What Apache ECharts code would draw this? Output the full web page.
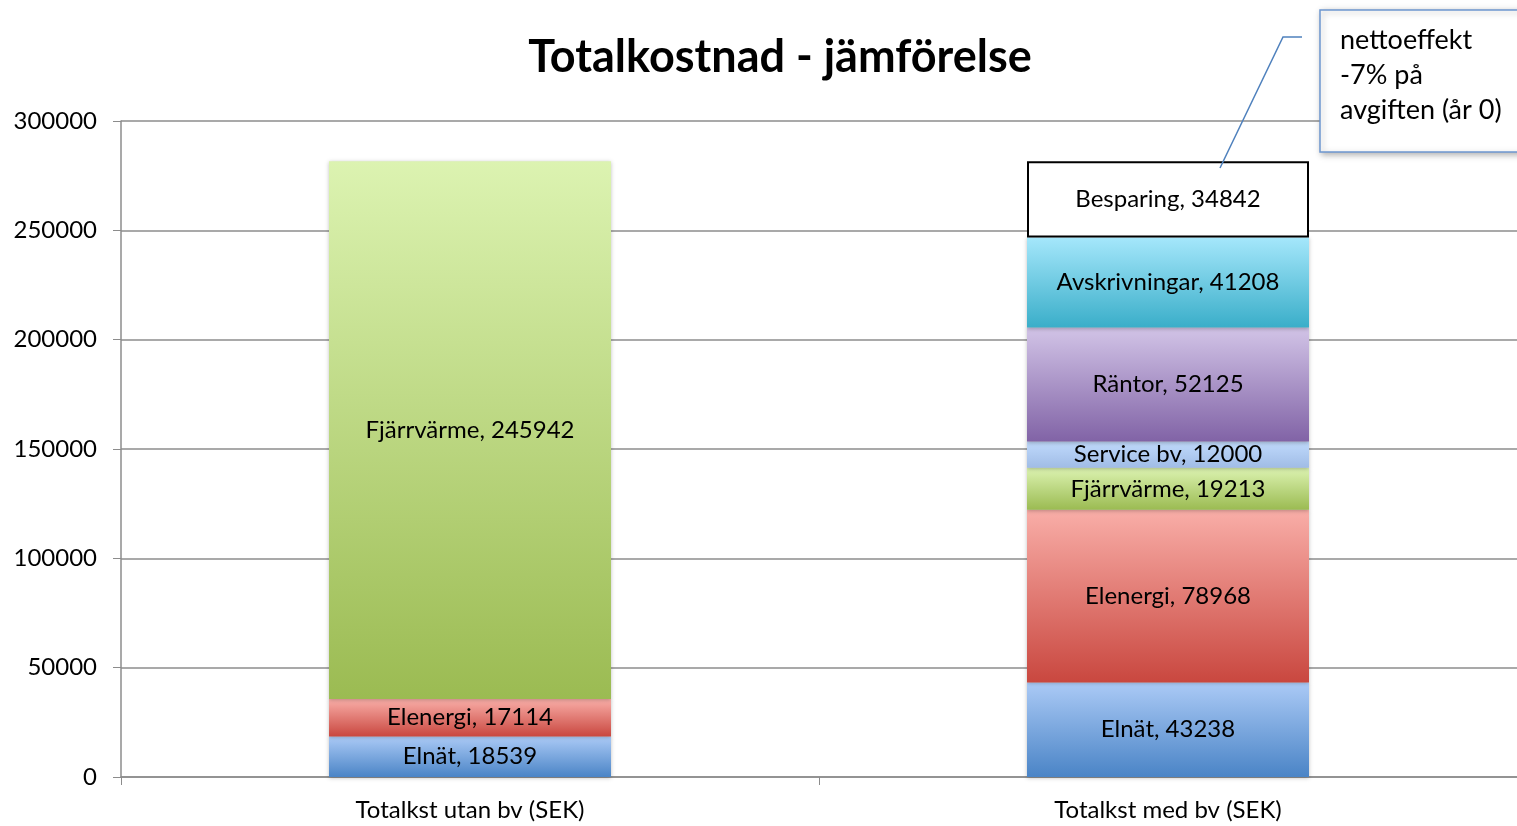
<!DOCTYPE html>
<html lang="sv">
<head>
    <meta charset="UTF-8">
    <title>Totalkostnad - jämförelse</title>
    <script src="https://cdn.jsdelivr.net/npm/echarts@6/dist/echarts.min.js"></script>
</head>
<body style="margin:0">
<div id="chart" style="width:1517px;height:826px"></div>
<script>
    var categories = ['Totalkst utan bv (SEK)', 'Totalkst med bv (SEK)'];
    var seriesNames = ['Elnät', 'Elenergi', 'Fjärrvärme', 'Service bv', 'Räntor', 'Avskrivningar', 'Besparing'];
    var elnat = [18539, 43238];
    var elenergi = [17114, 78968];
    var fjarrvarme = [245942, 19213];
    var serviceBv = ['-', 12000];
    var rantor = ['-', 52125];
    var avskrivningar = ['-', 41208];
    var besparing = ['-', 34842];
    var calloutText = 'nettoeffekt\n-7% på\navgiften (år 0)';

    var values = [elnat, elenergi, fjarrvarme, serviceBv, rantor, avskrivningar, besparing];
    var gradients = [
        ['#abcaf6', '#4a84c6'],
        ['#f9aea8', '#c9473f'],
        ['#dcf3b1', '#9bbb52'],
        ['#c0dafc', '#a0bce6'],
        ['#d2c4e7', '#8163a6'],
        ['#a5e7fb', '#3aaec9'],
        null
    ];

    var font = 'Lato';
    var series = seriesNames.map(function (name, i) {
        var g = gradients[i];
        var itemStyle = g ? {
            color: new echarts.graphic.LinearGradient(0, 0, 0, 1, [
                {offset: 0, color: g[0]},
                {offset: 1, color: g[1]}
            ]),
            shadowColor: 'rgba(0,0,0,0.25)',
            shadowBlur: 4,
            shadowOffsetY: 1
        } : {
            color: '#fff',
            borderColor: '#000',
            borderWidth: 2
        };
        return {
            name: name,
            type: 'bar',
            stack: 'total',
            barWidth: 282,
            data: values[i],
            itemStyle: itemStyle,
            label: {
                show: true,
                position: 'inside',
                formatter: '{a}, {c}',
                color: '#000',
                fontFamily: font,
                fontSize: 24
            }
        };
    });

    var myChart = echarts.init(document.getElementById('chart'));
    var option = {
        backgroundColor: '#fff',
        animation: false,
        title: {
            text: 'Totalkostnad - jämförelse',
            left: 775,
            textAlign: 'center',
            top: 30,
            textStyle: {fontFamily: font, fontSize: 45, fontWeight: 'bold', color: '#000'}
        },
        grid: {left: 121, width: 1400, top: 121, bottom: 49, containLabel: false},
        xAxis: {
            type: 'category',
            data: categories,
            axisLine: {lineStyle: {color: '#8c8c8c', width: 1.5}},
            axisTick: {show: true, length: 8, lineStyle: {color: '#8c8c8c'}},
            axisLabel: {color: '#000', fontFamily: font, fontSize: 24, margin: 21}
        },
        yAxis: {
            type: 'value',
            min: 0,
            max: 300000,
            interval: 50000,
            axisLine: {show: true, lineStyle: {color: '#8c8c8c', width: 1.5}},
            axisTick: {show: true, length: 8, lineStyle: {color: '#8c8c8c'}},
            axisLabel: {
                color: '#000', fontFamily: font, fontSize: 24, margin: 24,
                formatter: function (v) { return String(v); }
            },
            splitLine: {lineStyle: {color: '#8c8c8c', width: 1.5}}
        },
        series: series,
        graphic: [
            {
                type: 'polyline',
                shape: {points: [[1302, 37], [1283, 37], [1220, 168]]},
                style: {stroke: '#4f81bd', lineWidth: 1.5, fill: null},
                z: 10
            },
            {
                type: 'rect',
                shape: {x: 1320, y: 10, width: 210, height: 142},
                style: {
                    fill: '#fff', stroke: '#6e97cf', lineWidth: 1.5,
                    shadowColor: 'rgba(0,0,0,0.3)', shadowBlur: 6, shadowOffsetX: 2, shadowOffsetY: 2
                },
                z: 10
            },
            {
                type: 'text',
                left: 1340,
                top: 23,
                style: {text: calloutText, fontFamily: font, fontSize: 27, lineHeight: 35, fill: '#000'},
                z: 11
            }
        ]
    };
    myChart.setOption(option);
</script>
</body>
</html>
